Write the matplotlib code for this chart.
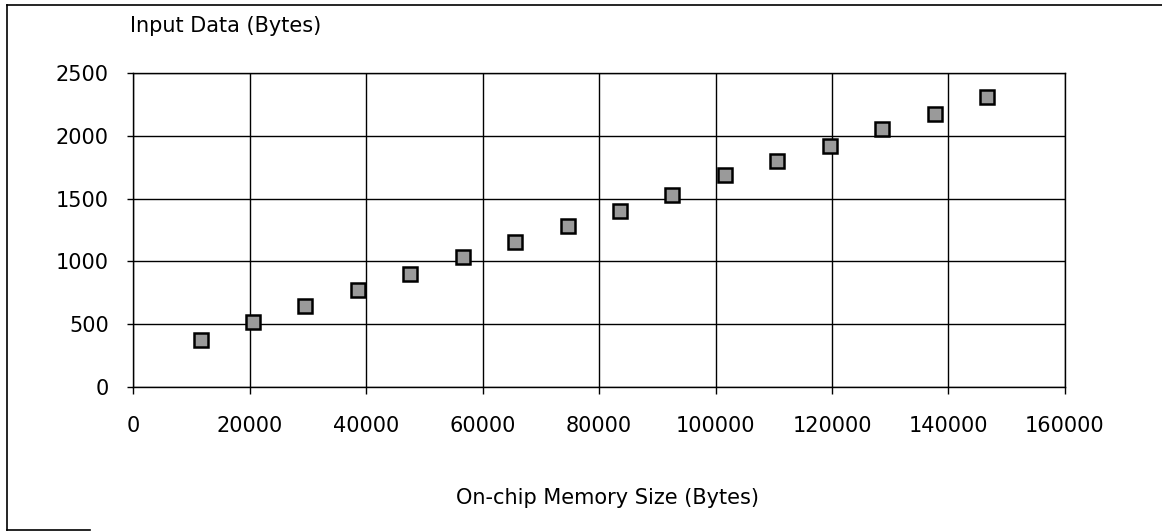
import matplotlib
matplotlib.use('Agg')
import matplotlib.pyplot as plt
from matplotlib.lines import Line2D

# data
memory_size = [11600, 20600, 29600, 38600, 47600, 56600, 65600, 74600,
               83600, 92600, 101600, 110600, 119600, 128600, 137600, 146600]
input_data = [371, 516, 645, 774, 903, 1032, 1151, 1278,
              1405, 1532, 1685, 1798, 1919, 2056, 2177, 2306]
x_ticks = [0, 20000, 40000, 60000, 80000, 100000, 120000, 140000, 160000]
y_ticks = [0, 500, 1000, 1500, 2000, 2500]

plt.rcParams['font.family'] = ['DejaVu Sans']

fig = plt.figure(figsize=(11.62, 5.32), dpi=100)
ax = fig.add_axes([0.1145, 0.2726, 0.802, 0.5902])

ax.plot(memory_size, input_data, linestyle='none', marker='s', markersize=10,
        markerfacecolor='#9a9a9a', markeredgecolor='black', markeredgewidth=1.8,
        zorder=3, clip_on=False)

ax.set_xlim(0, 160000)
ax.set_ylim(0, 2500)
ax.set_xticks(x_ticks)
ax.set_yticks(y_ticks)
ax.set_xticklabels([str(v) for v in x_ticks])
ax.set_yticklabels([str(v) for v in y_ticks])

ax.grid(True, color='black', linewidth=1.0)
ax.set_axisbelow(True)
for s in ax.spines.values():
    s.set_color('black')
    s.set_linewidth(1.0)

ax.tick_params(axis='x', direction='out', length=5, width=1.0, pad=16, labelsize=15)
ax.tick_params(axis='y', direction='out', length=4.5, width=1.0, pad=13, labelsize=15)

# axis titles placed as in the original
fig.text(130 / 1162, 1 - 26 / 532, 'Input Data (Bytes)', fontsize=15,
         ha='left', va='center')
fig.text(608 / 1162, 1 - 498 / 532, 'On-chip Memory Size (Bytes)', fontsize=15,
         ha='center', va='center')

# outer frame (scanned border)
fig.add_artist(Line2D([7 / 1162, 7 / 1162], [1 - 530 / 532, 1 - 5 / 532],
                      color='black', linewidth=1.2, transform=fig.transFigure))
fig.add_artist(Line2D([7 / 1162, 1.0], [1 - 5 / 532, 1 - 5 / 532],
                      color='black', linewidth=1.2, transform=fig.transFigure))
fig.add_artist(Line2D([7 / 1162, 90 / 1162], [1 - 530 / 532, 1 - 530 / 532],
                      color='black', linewidth=1.2, transform=fig.transFigure))

fig.savefig('out.png', dpi=100)
plt.close(fig)
